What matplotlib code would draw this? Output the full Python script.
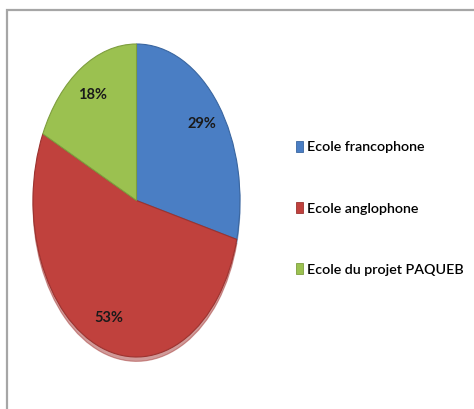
import matplotlib.pyplot as plt
import matplotlib.patches as mpatches

# Data
labels = ["Ecole francophone", "Ecole anglophone", "Ecole du projet PAQUEB"]
shares = [29, 53, 18]
colors = ["#4A7EC4", "#C0413D", "#9BC150"]
edges = ["#3A66A0", "#9C3330", "#7E9E3E"]

FONT = ["Lato", "DejaVu Sans"]

W, H = 474, 409
fig = plt.figure(figsize=(W / 100, H / 100), dpi=100)
fig.patch.set_facecolor("white")

# outer gray frame (cut off at right and bottom)
frame = mpatches.Rectangle((7 / W, -0.1), 1.2, 1.1 - 10 / H, transform=fig.transFigure,
                           fill=False, edgecolor="#A6A6A6", linewidth=1.6)
fig.patches.append(frame)

# pie drawn as a tall ellipse
ax = fig.add_axes([33 / W, (H - 357) / H, 207 / W, 313 / H])
wedges, texts, autotexts = ax.pie(
    shares, colors=colors, startangle=90, counterclock=False,
    autopct=lambda p: f"{round(p):d}%", pctdistance=0.8,
    wedgeprops=dict(linewidth=0.8),
    textprops=dict(fontsize=10.5, fontweight="bold", color="#1a1a1a", family=FONT),
    shadow=dict(ox=0.0, oy=-0.02, shade=0.15),
)
for w, ec in zip(wedges, edges):
    w.set_edgecolor(ec)
ax.set_aspect("auto")
ax.set_xlim(-1.0, 1.0)
ax.set_ylim(-1.0, 1.0)

handles = [mpatches.Patch(facecolor=c, edgecolor=e, linewidth=0.6) for c, e in zip(colors, edges)]
leg = fig.legend(handles, labels, loc="upper left", bbox_to_anchor=(296 / W, 1 - 141 / H),
                 frameon=False, borderpad=0, borderaxespad=0,
                 handlelength=0.5, handleheight=0.8, handletextpad=0.3,
                 labelspacing=3.4,
                 prop=dict(size=10.3, weight="semibold", family=FONT))

fig.savefig("out.png", dpi=100)
